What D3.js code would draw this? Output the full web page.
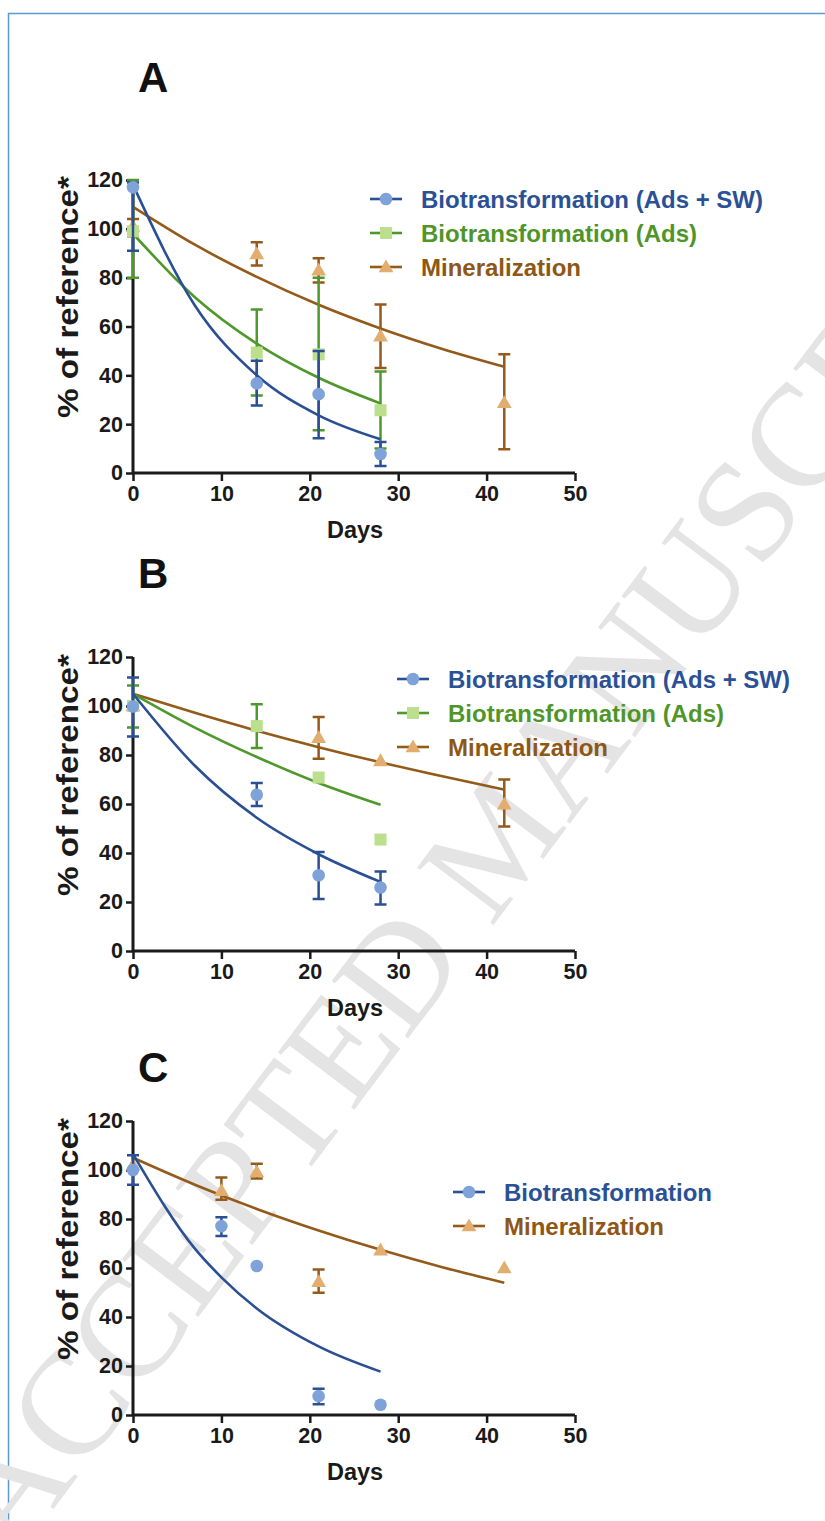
<!DOCTYPE html>
<html>
<head>
<meta charset="utf-8">
<script src="https://cdn.jsdelivr.net/npm/d3@7"></script>
<style>
  body { margin: 0; background: #fff; }
  svg { display: block; font-family: "Liberation Sans", Arial, sans-serif; }
</style>
</head>
<body>
<div id="chart"></div>
<script>
// ---- data: [day, mean, low, high] ----
// panel A
const aBioSw = [[0, 117, 91, 119], [14, 36.7, 27.6, 46], [21, 32.3, 14.2, 50], [28, 7.8, 2.9, 12.7]];
const aBioAds = [[0, 99, 80, 120], [14, 49.3, 31.7, 67], [21, 48.6, 17.5, 80], [28, 25.7, 10, 41.6]];
const aMin = [[0, 101, 97, 104], [14, 89.7, 85, 94.5], [21, 83, 78, 88], [28, 56, 43, 69], [42, 28.8, 9.7, 48.6]];
// fitted decay curves (read at 7 day steps)
const aBioSwFit = [[0, 118], [7, 68.6], [14, 40], [21, 23.6], [28, 13.8]];
const aBioAdsFit = [[0, 98], [7, 72], [14, 53], [21, 39], [28, 28.5]];
const aMinFit = [[0, 109], [7, 93.5], [14, 80.3], [21, 68.9], [28, 59.2], [35, 50.8], [42, 43.5]];

// panel B
const bBioSw = [[0, 99.8, 87.6, 111.6], [14, 63.8, 59.2, 68.6], [21, 30.9, 21.2, 40.4], [28, 25.9, 19, 32.5]];
const bBioAds = [[0, 100, 91.2, 108.4], [14, 91.8, 82.9, 100.7], [21, 70.8, null, null], [28, 45.5, null, null]];
const bMin = [[0, 100, null, null], [21, 87.1, 78.5, 95.5], [28, 77.6, null, null], [42, 59.9, 50.8, 70]];
const bBioSwFit = [[0, 105], [7, 75.6], [14, 54.4], [21, 39.5], [28, 28.2]];
const bBioAdsFit = [[0, 105], [7, 91.2], [14, 79.2], [21, 68.6], [28, 59.7]];
const bMinFit = [[0, 105], [7, 97.2], [14, 89.9], [21, 83.2], [28, 77], [35, 71.3], [42, 65.9]];

// panel C
const cBio = [[0, 100, 94, 106], [10, 77.1, 73.1, 80.7], [14, 60.8, null, null], [21, 7.7, 4.4, 10.7], [28, 4.2, null, null]];
const cMin = [[0, 102, null, null], [10, 91.5, 87.9, 96.9], [14, 99.2, 96.5, 102.6], [21, 54.4, 49.9, 59.4], [28, 67.3, null, null], [42, 60, null, null]];
const cBioFit = [[0, 106.5], [7, 67.9], [10, 56.2], [14, 43.5], [21, 28], [28, 17.7]];
const cMinFit = [[0, 105], [7, 94], [14, 84.1], [21, 75.3], [28, 67.4], [35, 60.3], [42, 54]];

const xTicks = [0, 10, 20, 30, 40, 50];
const yTicks = [0, 20, 40, 60, 80, 100, 120];
const labelSw = 'Biotransformation (Ads + SW)';
const labelAds = 'Biotransformation (Ads)';
const labelMin = 'Mineralization';
const labelBio = 'Biotransformation';

// colours
const blue = { line: '#2b4f94', fill: '#7fa3d9', text: '#2a5195', shape: 'circle' };
const green = { line: '#4f982b', fill: '#bbdf8c', text: '#4f9528', shape: 'square' };
const brown = { line: '#945a1a', fill: '#e1ae70', text: '#8e5716', shape: 'triangle' };

const W = 825, H = 1521;
const svg = d3.select('#chart').append('svg').attr('width', W).attr('height', H);

// frame
svg.append('path')
  .attr('d', `M8.5,${H} L8.5,13.5 L${W},13.5`)
  .attr('fill', 'none').attr('stroke', '#5b9bd5').attr('stroke-width', 1.5);

// watermark
svg.append('text')
  .attr('transform', 'translate(15,1560) rotate(-53)')
  .attr('font-family', '"Liberation Serif", "DejaVu Serif", serif')
  .attr('font-size', 146)
  .attr('fill', '#e4e4e4')
  .text('ACCEPTED MANUSCRIPT');

const panels = [
  { letter: 'A', top: 180, bottom: 473, letterY: 92,
    series: [
      { c: brown, pts: aMin, fit: aMinFit, label: labelMin },
      { c: green, pts: aBioAds, fit: aBioAdsFit, label: labelAds },
      { c: blue, pts: aBioSw, fit: aBioSwFit, label: labelSw }
    ],
    legend: { x: 370, y: 199 } },
  { letter: 'B', top: 657, bottom: 951, letterY: 588,
    series: [
      { c: brown, pts: bMin, fit: bMinFit, label: labelMin },
      { c: green, pts: bBioAds, fit: bBioAdsFit, label: labelAds },
      { c: blue, pts: bBioSw, fit: bBioSwFit, label: labelSw }
    ],
    legend: { x: 397, y: 679 } },
  { letter: 'C', top: 1121, bottom: 1415, letterY: 1082,
    series: [
      { c: brown, pts: cMin, fit: cMinFit, label: labelMin },
      { c: blue, pts: cBio, fit: cBioFit, label: labelBio }
    ],
    legend: { x: 453, y: 1192 } }
];

function marker(g, shape, cx, cy, fill) {
  if (shape === 'circle') {
    g.append('circle').attr('cx', cx).attr('cy', cy).attr('r', 6.3).attr('fill', fill);
  } else if (shape === 'square') {
    g.append('rect').attr('x', cx - 6).attr('y', cy - 6).attr('width', 12).attr('height', 12).attr('fill', fill);
  } else {
    g.append('path').attr('d', d3.symbol(d3.symbolTriangle, 95)()).attr('transform', `translate(${cx},${cy + 1})`).attr('fill', fill);
  }
}

panels.forEach(function (p) {
  const x = d3.scaleLinear().domain([0, 50]).range([133, 575]);
  const y = d3.scaleLinear().domain([0, 120]).range([p.bottom, p.top]);
  const g = svg.append('g');

  // panel letter
  g.append('text').attr('x', 138).attr('y', p.letterY)
    .attr('font-size', 42).attr('font-weight', 'bold').attr('fill', '#111')
    .text(p.letter);

  // axes
  const xAxis = g.append('g').attr('transform', `translate(0,${p.bottom})`)
    .call(d3.axisBottom(x).tickValues(xTicks).tickSize(8).tickPadding(5));
  const yAxis = g.append('g').attr('transform', 'translate(133,0)')
    .call(d3.axisLeft(y).tickValues(yTicks).tickSize(7).tickPadding(3));
  [xAxis, yAxis].forEach(function (a) {
    a.select('.domain').attr('stroke', '#1a1a1a').attr('stroke-width', 3)
      .attr('d', a === xAxis ? 'M133,0H575' : `M0,${p.top}V${p.bottom}`);
    a.selectAll('.tick line').attr('stroke', '#1a1a1a').attr('stroke-width', 2.5);
    a.selectAll('.tick text').attr('font-size', 21.5).attr('font-weight', 'bold')
      .attr('fill', '#1a1a1a').attr('font-family', '"Liberation Sans", Arial, sans-serif');
  });

  g.append('text').attr('x', 355).attr('y', p.bottom + 65)
    .attr('text-anchor', 'middle').attr('font-size', 23.5).attr('font-weight', 'bold')
    .attr('fill', '#1a1a1a').text('Days');

  g.append('text')
    .attr('transform', `translate(78,${p.bottom - 176}) rotate(-90)`)
    .attr('text-anchor', 'middle').attr('font-size', 29).attr('font-weight', 'bold')
    .attr('fill', '#1a1a1a')
    .attr('textLength', 242).attr('lengthAdjust', 'spacingAndGlyphs')
    .text('% of reference*');

  const line = d3.line().x(d => x(d[0])).y(d => y(d[1])).curve(d3.curveMonotoneX);

  p.series.forEach(function (s) {
    const sg = g.append('g');
    sg.append('path').datum(s.fit).attr('d', line)
      .attr('fill', 'none').attr('stroke', s.c.line).attr('stroke-width', 2.6);
    s.pts.forEach(function (d) {
      if (d[2] !== null) {
        const xx = x(d[0]);
        sg.append('path')
          .attr('d', `M${xx},${y(d[2])}V${y(d[3])}M${xx - 6},${y(d[2])}H${xx + 6}M${xx - 6},${y(d[3])}H${xx + 6}`)
          .attr('fill', 'none').attr('stroke', s.c.line).attr('stroke-width', 2.5);
      }
    });
    s.pts.forEach(function (d) {
      marker(sg, s.c.shape, x(d[0]), y(d[1]), s.c.fill);
    });
  });

  // legend (top row = last drawn series)
  const items = p.series.slice().reverse();
  items.forEach(function (s, i) {
    const ly = p.legend.y + i * 34;
    const lg = g.append('g');
    lg.append('line').attr('x1', p.legend.x).attr('x2', p.legend.x + 32)
      .attr('y1', ly).attr('y2', ly).attr('stroke', s.c.line).attr('stroke-width', 2.6);
    marker(lg, s.c.shape, p.legend.x + 16, ly, s.c.fill);
    lg.append('text').attr('x', p.legend.x + 51).attr('y', ly + 8.5)
      .attr('font-size', 24).attr('font-weight', 'bold').attr('fill', s.c.text)
      .text(s.label);
  });
});
</script>
</body>
</html>
